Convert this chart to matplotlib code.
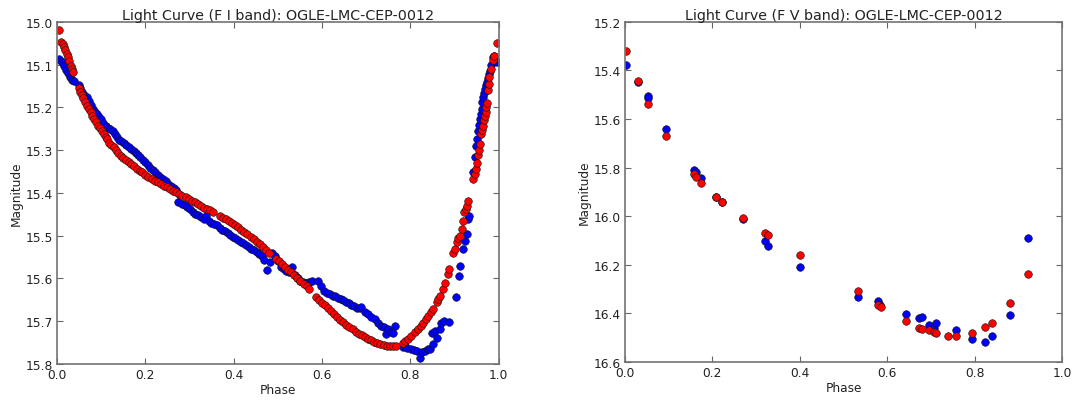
import matplotlib
matplotlib.use("Agg")
import matplotlib.pyplot as plt

# %% Data
star = "OGLE-LMC-CEP-0012"

# I band, blue series (phase, magnitude)
i_blue_phase = [0.004, 0.009, 0.013, 0.017, 0.021, 0.025, 0.029, 0.034, 0.038, 0.049,
                0.053, 0.057, 0.062, 0.067, 0.072, 0.076, 0.081, 0.086, 0.091, 0.096,
                0.100, 0.105, 0.110, 0.115, 0.121, 0.126, 0.131, 0.136, 0.141, 0.146,
                0.152, 0.157, 0.163, 0.168, 0.174, 0.179, 0.184, 0.189, 0.195, 0.200,
                0.206, 0.211, 0.217, 0.222, 0.228, 0.234, 0.240, 0.246, 0.252, 0.258,
                0.264, 0.270, 0.273, 0.279, 0.283, 0.289, 0.295, 0.302, 0.307, 0.313,
                0.319, 0.325, 0.332, 0.338, 0.344, 0.349, 0.356, 0.363, 0.368, 0.374,
                0.380, 0.386, 0.392, 0.398, 0.404, 0.410, 0.416, 0.422, 0.428, 0.434,
                0.440, 0.446, 0.452, 0.458, 0.464, 0.469, 0.476, 0.481, 0.487, 0.493,
                0.500, 0.507, 0.513, 0.519, 0.526, 0.533, 0.538, 0.545, 0.551, 0.557,
                0.563, 0.570, 0.578, 0.590, 0.598, 0.605, 0.611, 0.617, 0.624, 0.630,
                0.636, 0.642, 0.648, 0.654, 0.660, 0.666, 0.673, 0.679, 0.685, 0.689,
                0.696, 0.704, 0.711, 0.719, 0.727, 0.734, 0.740, 0.745, 0.749, 0.755,
                0.761, 0.764, 0.783, 0.787, 0.793, 0.802, 0.808, 0.814, 0.821, 0.827,
                0.833, 0.839, 0.844, 0.848, 0.852, 0.855, 0.861, 0.867, 0.870, 0.876,
                0.888, 0.903, 0.909, 0.912, 0.919, 0.923, 0.927, 0.931, 0.933, 0.942,
                0.946, 0.948, 0.950, 0.953, 0.955, 0.957, 0.959, 0.961, 0.963, 0.965,
                0.967, 0.969, 0.971, 0.973, 0.975, 0.977, 0.980, 0.983, 0.986, 0.989,
                0.992, 0.996]
i_blue_mag = [15.087, 15.092, 15.097, 15.104, 15.112, 15.120, 15.128, 15.137, 15.139, 15.148,
              15.155, 15.164, 15.170, 15.176, 15.184, 15.194, 15.204, 15.210, 15.215, 15.222,
              15.228, 15.236, 15.243, 15.247, 15.250, 15.256, 15.262, 15.270, 15.275, 15.279,
              15.284, 15.288, 15.293, 15.297, 15.302, 15.307, 15.311, 15.316, 15.322, 15.328,
              15.334, 15.341, 15.347, 15.352, 15.358, 15.363, 15.368, 15.373, 15.378, 15.383,
              15.388, 15.393, 15.420, 15.404, 15.425, 15.428, 15.433, 15.438, 15.445, 15.449,
              15.452, 15.456, 15.460, 15.455, 15.466, 15.470, 15.473, 15.476, 15.482, 15.486,
              15.490, 15.494, 15.498, 15.503, 15.506, 15.510, 15.514, 15.518, 15.522, 15.526,
              15.530, 15.534, 15.539, 15.543, 15.548, 15.556, 15.580, 15.562, 15.540, 15.548,
              15.560, 15.573, 15.578, 15.582, 15.585, 15.574, 15.592, 15.600, 15.605, 15.608,
              15.610, 15.608, 15.605, 15.605, 15.617, 15.630, 15.634, 15.636, 15.642, 15.640,
              15.645, 15.647, 15.650, 15.654, 15.657, 15.661, 15.665, 15.668, 15.670, 15.667,
              15.678, 15.683, 15.690, 15.695, 15.703, 15.711, 15.714, 15.730, 15.718, 15.726,
              15.728, 15.711, 15.760, 15.757, 15.762, 15.765, 15.767, 15.769, 15.785, 15.772,
              15.769, 15.766, 15.764, 15.728, 15.753, 15.722, 15.740, 15.718, 15.703, 15.700,
              15.702, 15.644, 15.595, 15.570, 15.531, 15.512, 15.496, 15.461, 15.455, 15.352,
              15.316, 15.290, 15.274, 15.254, 15.240, 15.226, 15.215, 15.204, 15.188, 15.176,
              15.166, 15.157, 15.148, 15.141, 15.130, 15.122, 15.114, 15.100, 15.082, 15.080,
              15.090, 15.094]

# I band, red series (phase, magnitude)
i_red_phase = [0.005, 0.010, 0.013, 0.016, 0.019, 0.022, 0.025, 0.028, 0.031, 0.034,
               0.037, 0.050, 0.053, 0.056, 0.060, 0.064, 0.068, 0.072, 0.076, 0.080,
               0.084, 0.089, 0.093, 0.097, 0.101, 0.106, 0.110, 0.114, 0.118, 0.123,
               0.128, 0.133, 0.139, 0.145, 0.150, 0.156, 0.162, 0.168, 0.174, 0.180,
               0.187, 0.193, 0.200, 0.207, 0.214, 0.221, 0.228, 0.235, 0.242, 0.249,
               0.256, 0.263, 0.270, 0.277, 0.284, 0.291, 0.298, 0.305, 0.312, 0.319,
               0.326, 0.333, 0.340, 0.347, 0.354, 0.368, 0.375, 0.382, 0.389, 0.396,
               0.403, 0.410, 0.417, 0.424, 0.431, 0.438, 0.445, 0.452, 0.459, 0.466,
               0.473, 0.480, 0.495, 0.502, 0.509, 0.516, 0.523, 0.530, 0.537, 0.544,
               0.551, 0.558, 0.565, 0.571, 0.586, 0.592, 0.599, 0.606, 0.613, 0.620,
               0.627, 0.634, 0.641, 0.648, 0.655, 0.662, 0.669, 0.676, 0.683, 0.690,
               0.697, 0.704, 0.711, 0.718, 0.725, 0.732, 0.739, 0.746, 0.753, 0.760,
               0.767, 0.783, 0.788, 0.795, 0.802, 0.810, 0.818, 0.824, 0.829, 0.835,
               0.840, 0.846, 0.852, 0.859, 0.863, 0.867, 0.874, 0.878, 0.884, 0.887,
               0.897, 0.900, 0.905, 0.908, 0.912, 0.916, 0.919, 0.922, 0.925, 0.928,
               0.931, 0.942, 0.945, 0.948, 0.950, 0.953, 0.956, 0.958, 0.960, 0.962,
               0.965, 0.966, 0.968, 0.970, 0.971, 0.973, 0.976, 0.977, 0.978, 0.983,
               0.987, 0.989, 0.996]
i_red_mag = [15.020, 15.046, 15.052, 15.058, 15.066, 15.075, 15.083, 15.092, 15.104, 15.110,
             15.118, 15.155, 15.165, 15.172, 15.178, 15.188, 15.196, 15.204, 15.210, 15.219,
             15.226, 15.234, 15.243, 15.249, 15.254, 15.262, 15.268, 15.274, 15.282, 15.288,
             15.293, 15.299, 15.307, 15.313, 15.318, 15.322, 15.328, 15.333, 15.338, 15.343,
             15.348, 15.352, 15.358, 15.363, 15.367, 15.371, 15.375, 15.379, 15.383, 15.387,
             15.391, 15.395, 15.398, 15.402, 15.406, 15.410, 15.414, 15.418, 15.422, 15.426,
             15.430, 15.434, 15.438, 15.441, 15.444, 15.453, 15.458, 15.462, 15.466, 15.470,
             15.475, 15.480, 15.486, 15.491, 15.497, 15.502, 15.508, 15.514, 15.520, 15.527,
             15.533, 15.540, 15.555, 15.560, 15.567, 15.573, 15.579, 15.585, 15.592, 15.599,
             15.607, 15.612, 15.618, 15.624, 15.644, 15.651, 15.657, 15.663, 15.670, 15.677,
             15.684, 15.690, 15.696, 15.702, 15.708, 15.714, 15.719, 15.724, 15.729, 15.733,
             15.737, 15.741, 15.745, 15.749, 15.752, 15.754, 15.756, 15.757, 15.757, 15.757,
             15.757, 15.750, 15.746, 15.742, 15.734, 15.726, 15.718, 15.710, 15.703, 15.695,
             15.687, 15.679, 15.671, 15.656, 15.648, 15.640, 15.624, 15.610, 15.590, 15.578,
             15.540, 15.531, 15.515, 15.505, 15.500, 15.484, 15.465, 15.445, 15.438, 15.430,
             15.418, 15.367, 15.355, 15.344, 15.330, 15.312, 15.300, 15.285, 15.262, 15.252,
             15.243, 15.230, 15.219, 15.210, 15.200, 15.190, 15.160, 15.145, 15.129, 15.110,
             15.090, 15.080, 15.050]

# V band, blue series
v_blue_phase = [0.002, 0.029, 0.053, 0.053, 0.093, 0.157, 0.163, 0.175, 0.208, 0.222,
                0.270, 0.320, 0.327, 0.400, 0.532, 0.579, 0.583, 0.643, 0.673, 0.680,
                0.694, 0.706, 0.712, 0.757, 0.794, 0.824, 0.838, 0.880, 0.922]
v_blue_mag = [15.378, 15.449, 15.503, 15.514, 15.641, 15.808, 15.817, 15.843, 15.919, 15.940,
              16.013, 16.102, 16.122, 16.210, 16.334, 16.350, 16.364, 16.404, 16.419, 16.416,
              16.447, 16.459, 16.439, 16.470, 16.505, 16.518, 16.494, 16.406, 16.088]

# V band, red series
v_red_phase = [0.003, 0.029, 0.053, 0.093, 0.157, 0.163, 0.175, 0.208, 0.222, 0.270,
               0.320, 0.327, 0.400, 0.532, 0.579, 0.585, 0.643, 0.673, 0.680, 0.694,
               0.706, 0.712, 0.738, 0.757, 0.794, 0.824, 0.838, 0.880, 0.922]
v_red_mag = [15.319, 15.442, 15.539, 15.669, 15.828, 15.838, 15.863, 15.919, 15.941, 16.009,
             16.067, 16.076, 16.158, 16.309, 16.364, 16.372, 16.432, 16.459, 16.463, 16.470,
             16.477, 16.481, 16.491, 16.491, 16.481, 16.456, 16.439, 16.357, 16.236]

# %% Plot
fig = plt.figure(figsize=(10.83, 4.02), dpi=100)
ax1 = fig.add_axes([0.0526, 0.092, 0.408, 0.851])
ax2 = fig.add_axes([0.577, 0.097, 0.404, 0.846])

panels = [
    (ax1, "I", i_blue_phase, i_blue_mag, i_red_phase, i_red_mag, (15.8, 15.0), 0.1),
    (ax2, "V", v_blue_phase, v_blue_mag, v_red_phase, v_red_mag, (16.6, 15.2), 0.2),
]

for ax, band, bx, by, rx, ry, ylim, step in panels:
    ax.plot(bx, by, "o", color="#0000ff", mec="#111111", mew=0.4, ms=5.5)
    ax.plot(rx, ry, "o", color="#ff0000", mec="#111111", mew=0.4, ms=5.5)
    ax.set_xlim(0, 1)
    ax.set_ylim(*ylim)
    ax.set_xticks([0.0, 0.2, 0.4, 0.6, 0.8, 1.0])
    n = int(round((ylim[0] - ylim[1]) / step))
    ax.set_yticks([round(ylim[1] + k * step, 1) for k in range(n + 1)])
    ax.tick_params(direction="in", length=4, width=0.8, top=True, right=True,
                   labelsize=8.8, colors="0.4", labelcolor="#222222", pad=3)
    for sp in ax.spines.values():
        sp.set_color("0.45")
        sp.set_linewidth(1.2)
    ax.set_title(f"Light Curve (F {band} band): {star}", fontsize=10.3, color="#222222", pad=2)
    ax.set_xlabel("Phase", fontsize=8.7, color="#222222", labelpad=1)
    ax.set_ylabel("Magnitude", fontsize=8.7, color="#222222", labelpad=2)

fig.savefig("out.png", dpi=100)
plt.close()
